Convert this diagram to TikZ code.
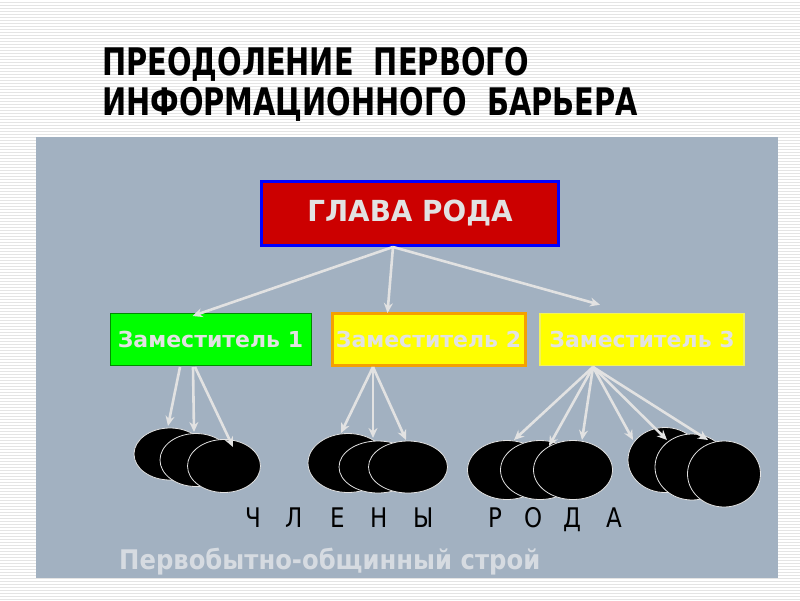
\documentclass[tikz,border=0pt]{standalone}
\usepackage{fontspec}
\setmainfont{DejaVu Sans}
\newfontfamily\titlefont[FakeStretch=0.76]{DejaVu Sans}
\newfontfamily\headfont[FakeStretch=0.96]{DejaVu Sans}
\newfontfamily\boxfont[FakeStretch=1.0]{DejaVu Sans}
\newfontfamily\footfont[FakeStretch=0.9]{DejaVu Sans}
\newfontfamily\thinfont[FakeStretch=0.85]{DejaVu Sans}
\usetikzlibrary{arrows.meta,shapes.geometric}
\definecolor{panel}{HTML}{A2B1C1}
\definecolor{stripe}{HTML}{E4E4E4}
\definecolor{lite}{HTML}{E2E2E2}
\definecolor{headred}{HTML}{CC0000}
\definecolor{grn}{HTML}{00FF00}
\definecolor{ylw}{HTML}{FFFF00}
\definecolor{orng}{HTML}{F5A000}
\definecolor{footc}{HTML}{D6DBE1}
\tikzset{
  headbox/.style={draw=blue, line width=3pt, fill=headred, minimum width=297pt, minimum height=64pt, inner sep=0pt, text=lite, font=\headfont\bfseries\fontsize{29}{32}\selectfont},
  depbox/.style={fill=ylw, minimum height=52pt, inner sep=0pt, text=lite, font=\boxfont\bfseries\fontsize{22}{26}\selectfont},
  member/.style={ellipse, fill=black, draw=lite, line width=0.8pt, inner sep=0pt},
  link/.style={draw=lite, line width=2.6pt, -{Stealth[length=10pt,width=9pt]}},
}
\begin{document}
\begin{tikzpicture}[x=1pt,y=-1pt]
\useasboundingbox (0,0) rectangle (800,600);
\fill[white] (0,0) rectangle (800,600);
\foreach \yy in {2,5,...,599} \draw[stripe, line width=0.9pt] (0,\yy) -- (800,\yy);
\fill[panel] (36,137) rectangle (778,578);

\node[anchor=north west, align=left, inner sep=0pt, font=\titlefont\bfseries\fontsize{38}{40.5}\selectfont] (title) at (102,47)
  {ПРЕОДОЛЕНИЕ\ \ ПЕРВОГО\\ИНФОРМАЦИОННОГО\ \ БАРЬЕРА};

\node[headbox] (head) at (410,213.5) {ГЛАВА РОДА};

\node[depbox, fill=grn, draw=green!55!black, line width=1pt, minimum width=201pt] (d1) at (210.5,339.5) {Заместитель 1};
\node[depbox, draw=orng, line width=3pt, minimum width=193pt] (d2) at (428.5,339.5) {Заместитель 2};
\node[depbox, draw=ylw!60!lite, line width=1.5pt, minimum width=204pt] (d3) at (642,339.5) {Заместитель 3};

% members
\node[member, minimum width=72pt, minimum height=52pt] (m11) at (170,454) {};
\node[member, minimum width=72pt, minimum height=53pt] (m12) at (196,460) {};
\node[member, minimum width=73pt, minimum height=53pt] (m13) at (224,466) {};
\node[member, minimum width=80pt, minimum height=59pt] (m21) at (348,463) {};
\node[member, minimum width=78pt, minimum height=52pt] (m22) at (378,467) {};
\node[member, minimum width=79pt, minimum height=52pt] (m23) at (408,467) {};
\node[member, minimum width=79pt, minimum height=59pt] (m31) at (507,470) {};
\node[member, minimum width=79pt, minimum height=59pt] (m32) at (540,470) {};
\node[member, minimum width=79pt, minimum height=59pt] (m33) at (573,470) {};
\node[member, minimum width=74pt, minimum height=65pt] (m41) at (665,460) {};
\node[member, minimum width=74pt, minimum height=66pt] (m42) at (692,467) {};
\node[member, minimum width=73pt, minimum height=66pt] (m43) at (724,474) {};

% connector ends
\coordinate (h0) at ([xshift=-17pt]head.south);
\coordinate (a1) at ([xshift=-18pt,yshift=-3pt]d1.north);
\coordinate (a2) at ([xshift=-41pt,yshift=-1pt]d2.north);
\coordinate (a3) at ([xshift=-42pt,yshift=8pt]d3.north);
\coordinate (s11) at (180,367);
\coordinate (s12) at (193,367);
\coordinate (s13) at (195,367);
\coordinate (s2) at (373,367);
\coordinate (s3) at (593,367);
\coordinate (t11) at (168,426);
\coordinate (t12) at (194,432);
\coordinate (t13) at (233,447);
\coordinate (t21) at (341,433);
\coordinate (t22) at (373,438);
\coordinate (t23) at (406,440);
\coordinate (t31) at (514,440);
\coordinate (t32) at (549,446);
\coordinate (t33) at (582,440);
\coordinate (t34) at (633,440);
\coordinate (t35) at (667,440);
\coordinate (t36) at (708,440);

\draw[link] (h0) -- (a1);
\draw[link] (h0) -- (a2);
\draw[link] (h0) -- (a3);
\draw[link] (s11) -- (t11);
\draw[link] (s12) -- (t12);
\draw[link] (s13) -- (t13);
\foreach \t in {t21,t22,t23} \draw[link] (s2) -- (\t);
\foreach \t in {t31,t32,t33,t34,t35,t36} \draw[link] (s3) -- (\t);

\node[anchor=base west, inner sep=0pt, font=\thinfont\fontsize{27}{30}\selectfont] (members) at (245,527)
  {\makebox[40pt][l]{Ч}\makebox[45pt][l]{Л}\makebox[40pt][l]{Е}\makebox[43pt][l]{Н}\makebox[75pt][l]{Ы}\makebox[36pt][l]{Р}\makebox[39pt][l]{О}\makebox[43pt][l]{Д}А};

\node[anchor=base west, inner sep=0pt, text=footc, font=\footfont\bfseries\fontsize{27}{30}\selectfont] (foot) at (119,569) {Первобытно-общинный строй};
\end{tikzpicture}
\end{document}
